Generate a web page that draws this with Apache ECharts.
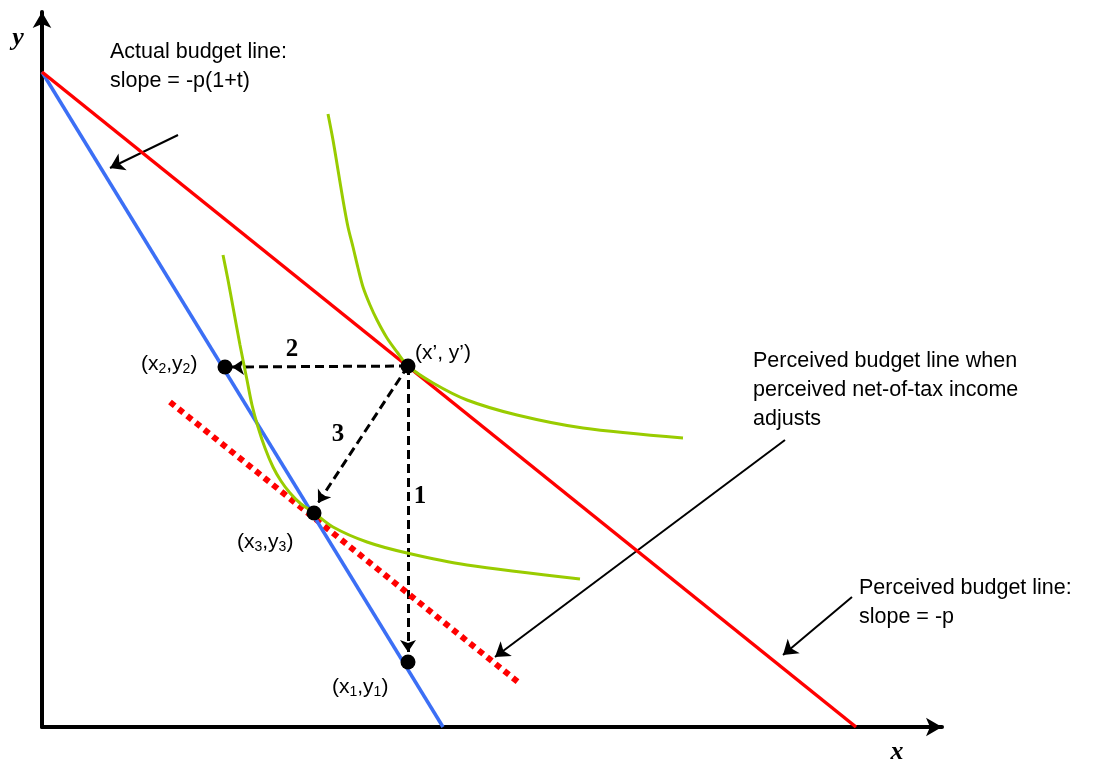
<!DOCTYPE html>
<html>
<head>
<meta charset="utf-8">
<script src="https://cdn.jsdelivr.net/npm/echarts@6/dist/echarts.min.js"></script>
<style>
  html, body { margin: 0; padding: 0; background: #fff; }
  #chart { width: 1109px; height: 764px; }
</style>
</head>
<body>
<div id="chart"></div>
<script>
// budget lines (x, y)
var actualBudget = [[0, 655], [401, 0]];
var perceivedBudget = [[0, 655], [814, 0]];
var adjustedBudget = [[128, 325], [476, 45]];

// indifference curves
var icHigh = [[286, 613], [291, 587], [296, 557], [301, 527], [306, 500], [311, 480], [316, 459],
  [321, 440], [328, 422], [335, 407], [345, 389], [355, 375], [366, 361], [391, 344], [425, 327],
  [475, 312], [541, 299], [641, 289]];
var icLow = [[181, 472], [186, 447], [191, 420], [198, 382], [205, 347], [210, 322], [216, 300],
  [223, 279], [231, 260], [239, 246], [248, 234], [259, 223], [271, 215], [291, 200], [325, 185],
  [365, 174], [425, 162], [538, 148]];

// bundles
var bundlePrime = [366, 361];
var bundle1 = [366, 65];
var bundle2 = [183, 360];
var bundle3 = [272, 214];

// adjustment steps: from, to, label
var stepFrom = [366, 361];
var stepTo = [[366, 75], [190, 360], [276, 224]];
var stepNames = ["1", "2", "3"];
var stepLabelAt = [[378, 230], [250, 377], [296, 292]];

// annotation arrows: tail, head
var noteArrows = [
  [[136, 592], [68, 559]],
  [[743, 287], [453, 70]],
  [[810, 130], [741, 72]]
];

var SANS = "'Liberation Sans', Arial, sans-serif";
var SERIF = "'Liberation Serif', 'Times New Roman', serif";

var chart = echarts.init(document.getElementById("chart"));

function textPoint(coord, text, label) {
  return {
    value: coord,
    label: Object.assign({ show: true, formatter: text, color: "#000" }, label)
  };
}

var subRich = {
  a: { fontFamily: SANS, fontSize: 21, lineHeight: 24, color: "#000" },
  s: { fontFamily: SANS, fontSize: 14, lineHeight: 12, verticalAlign: "bottom", color: "#000" }
};

var pointLabels = [
  textPoint([373, 374], "{a|(x’, y’)}", { rich: subRich }),
  textPoint([99, 363], "{a|(x}{s|2}{a|,y}{s|2}{a|)}", { rich: subRich }),
  textPoint([195, 185], "{a|(x}{s|3}{a|,y}{s|3}{a|)}", { rich: subRich }),
  textPoint([290, 40], "{a|(x}{s|1}{a|,y}{s|1}{a|)}", { rich: subRich })
];

var noteStyle = { fontFamily: SANS, fontSize: 21.5, lineHeight: 29, color: "#000", verticalAlign: "top" };
var notes = [
  textPoint([68, 689], "Actual budget line:\nslope = -p(1+t)", noteStyle),
  textPoint([711, 380], "Perceived budget line when\nperceived net-of-tax income\nadjusts", noteStyle),
  textPoint([817, 153], "Perceived budget line:\nslope = -p", noteStyle)
];

var stepLabels = stepNames.map(function (n, i) {
  return textPoint(stepLabelAt[i], n, {
    fontFamily: SERIF, fontSize: 25, fontWeight: "bold", color: "#000", align: "center"
  });
});

var axisNames = [
  textPoint([-24, 689], "y", { fontFamily: SERIF, fontSize: 26, fontWeight: "bold", fontStyle: "italic", color: "#000", align: "center" }),
  textPoint([855, -25], "x", { fontFamily: SERIF, fontSize: 26, fontWeight: "bold", fontStyle: "italic", color: "#000", align: "center" })
];

var option = {
  animation: false,
  grid: { left: 42, top: 12, width: 900, height: 715 },
  xAxis: {
    type: "value", min: 0, max: 900,
    axisLine: { show: true, onZero: false, symbol: ["none", "arrow"], symbolSize: [14, 16], lineStyle: { color: "#000", width: 4 } },
    axisTick: { show: false }, axisLabel: { show: false }, splitLine: { show: false }
  },
  yAxis: {
    type: "value", min: 0, max: 715,
    axisLine: { show: true, onZero: false, symbol: ["none", "arrow"], symbolSize: [14, 16], lineStyle: { color: "#000", width: 4 } },
    axisTick: { show: false }, axisLabel: { show: false }, splitLine: { show: false }
  },
  series: [
    {
      name: "adjusted", type: "line", data: adjustedBudget, symbol: "none",
      lineStyle: { color: "#ff0000", width: 6, type: [6, 5], cap: "butt" }
    },
    {
      name: "actual", type: "line", data: actualBudget, symbol: "none",
      lineStyle: { color: "#3c6ff5", width: 3.5 }
    },
    {
      name: "perceived", type: "line", data: perceivedBudget, symbol: "none",
      lineStyle: { color: "#ff0000", width: 3.5 }
    },
    {
      name: "icHigh", type: "line", data: icHigh, symbol: "none", smooth: 0.3,
      lineStyle: { color: "#99cc00", width: 3 }
    },
    {
      name: "icLow", type: "line", data: icLow, symbol: "none", smooth: 0.3,
      lineStyle: { color: "#99cc00", width: 3 }
    },
    {
      name: "steps", type: "lines", coordinateSystem: "cartesian2d",
      symbol: ["none", "arrow"], symbolSize: 12,
      lineStyle: { color: "#000", width: 3, type: [9, 5], opacity: 1 },
      data: stepTo.map(function (t) { return { coords: [stepFrom, t] }; })
    },
    {
      name: "notes", type: "lines", coordinateSystem: "cartesian2d",
      symbol: ["none", "arrow"], symbolSize: 14,
      lineStyle: { color: "#000", width: 2, opacity: 1 },
      data: noteArrows.map(function (a) { return { coords: a }; })
    },
    {
      name: "bundles", type: "scatter", symbolSize: 15, z: 5,
      itemStyle: { color: "#000", opacity: 1 },
      data: [bundlePrime, bundle1, bundle2, bundle3]
    },
    {
      name: "text", type: "scatter", symbolSize: 0, clip: false, silent: true,
      itemStyle: { color: "#000", opacity: 1 },
      label: { show: true, position: "inside", align: "left", verticalAlign: "middle", color: "#000" },
      data: pointLabels.concat(notes, stepLabels, axisNames)
    }
  ]
};

chart.setOption(option);
window.addEventListener("resize", function () { chart.resize(); });
</script>
</body>
</html>
